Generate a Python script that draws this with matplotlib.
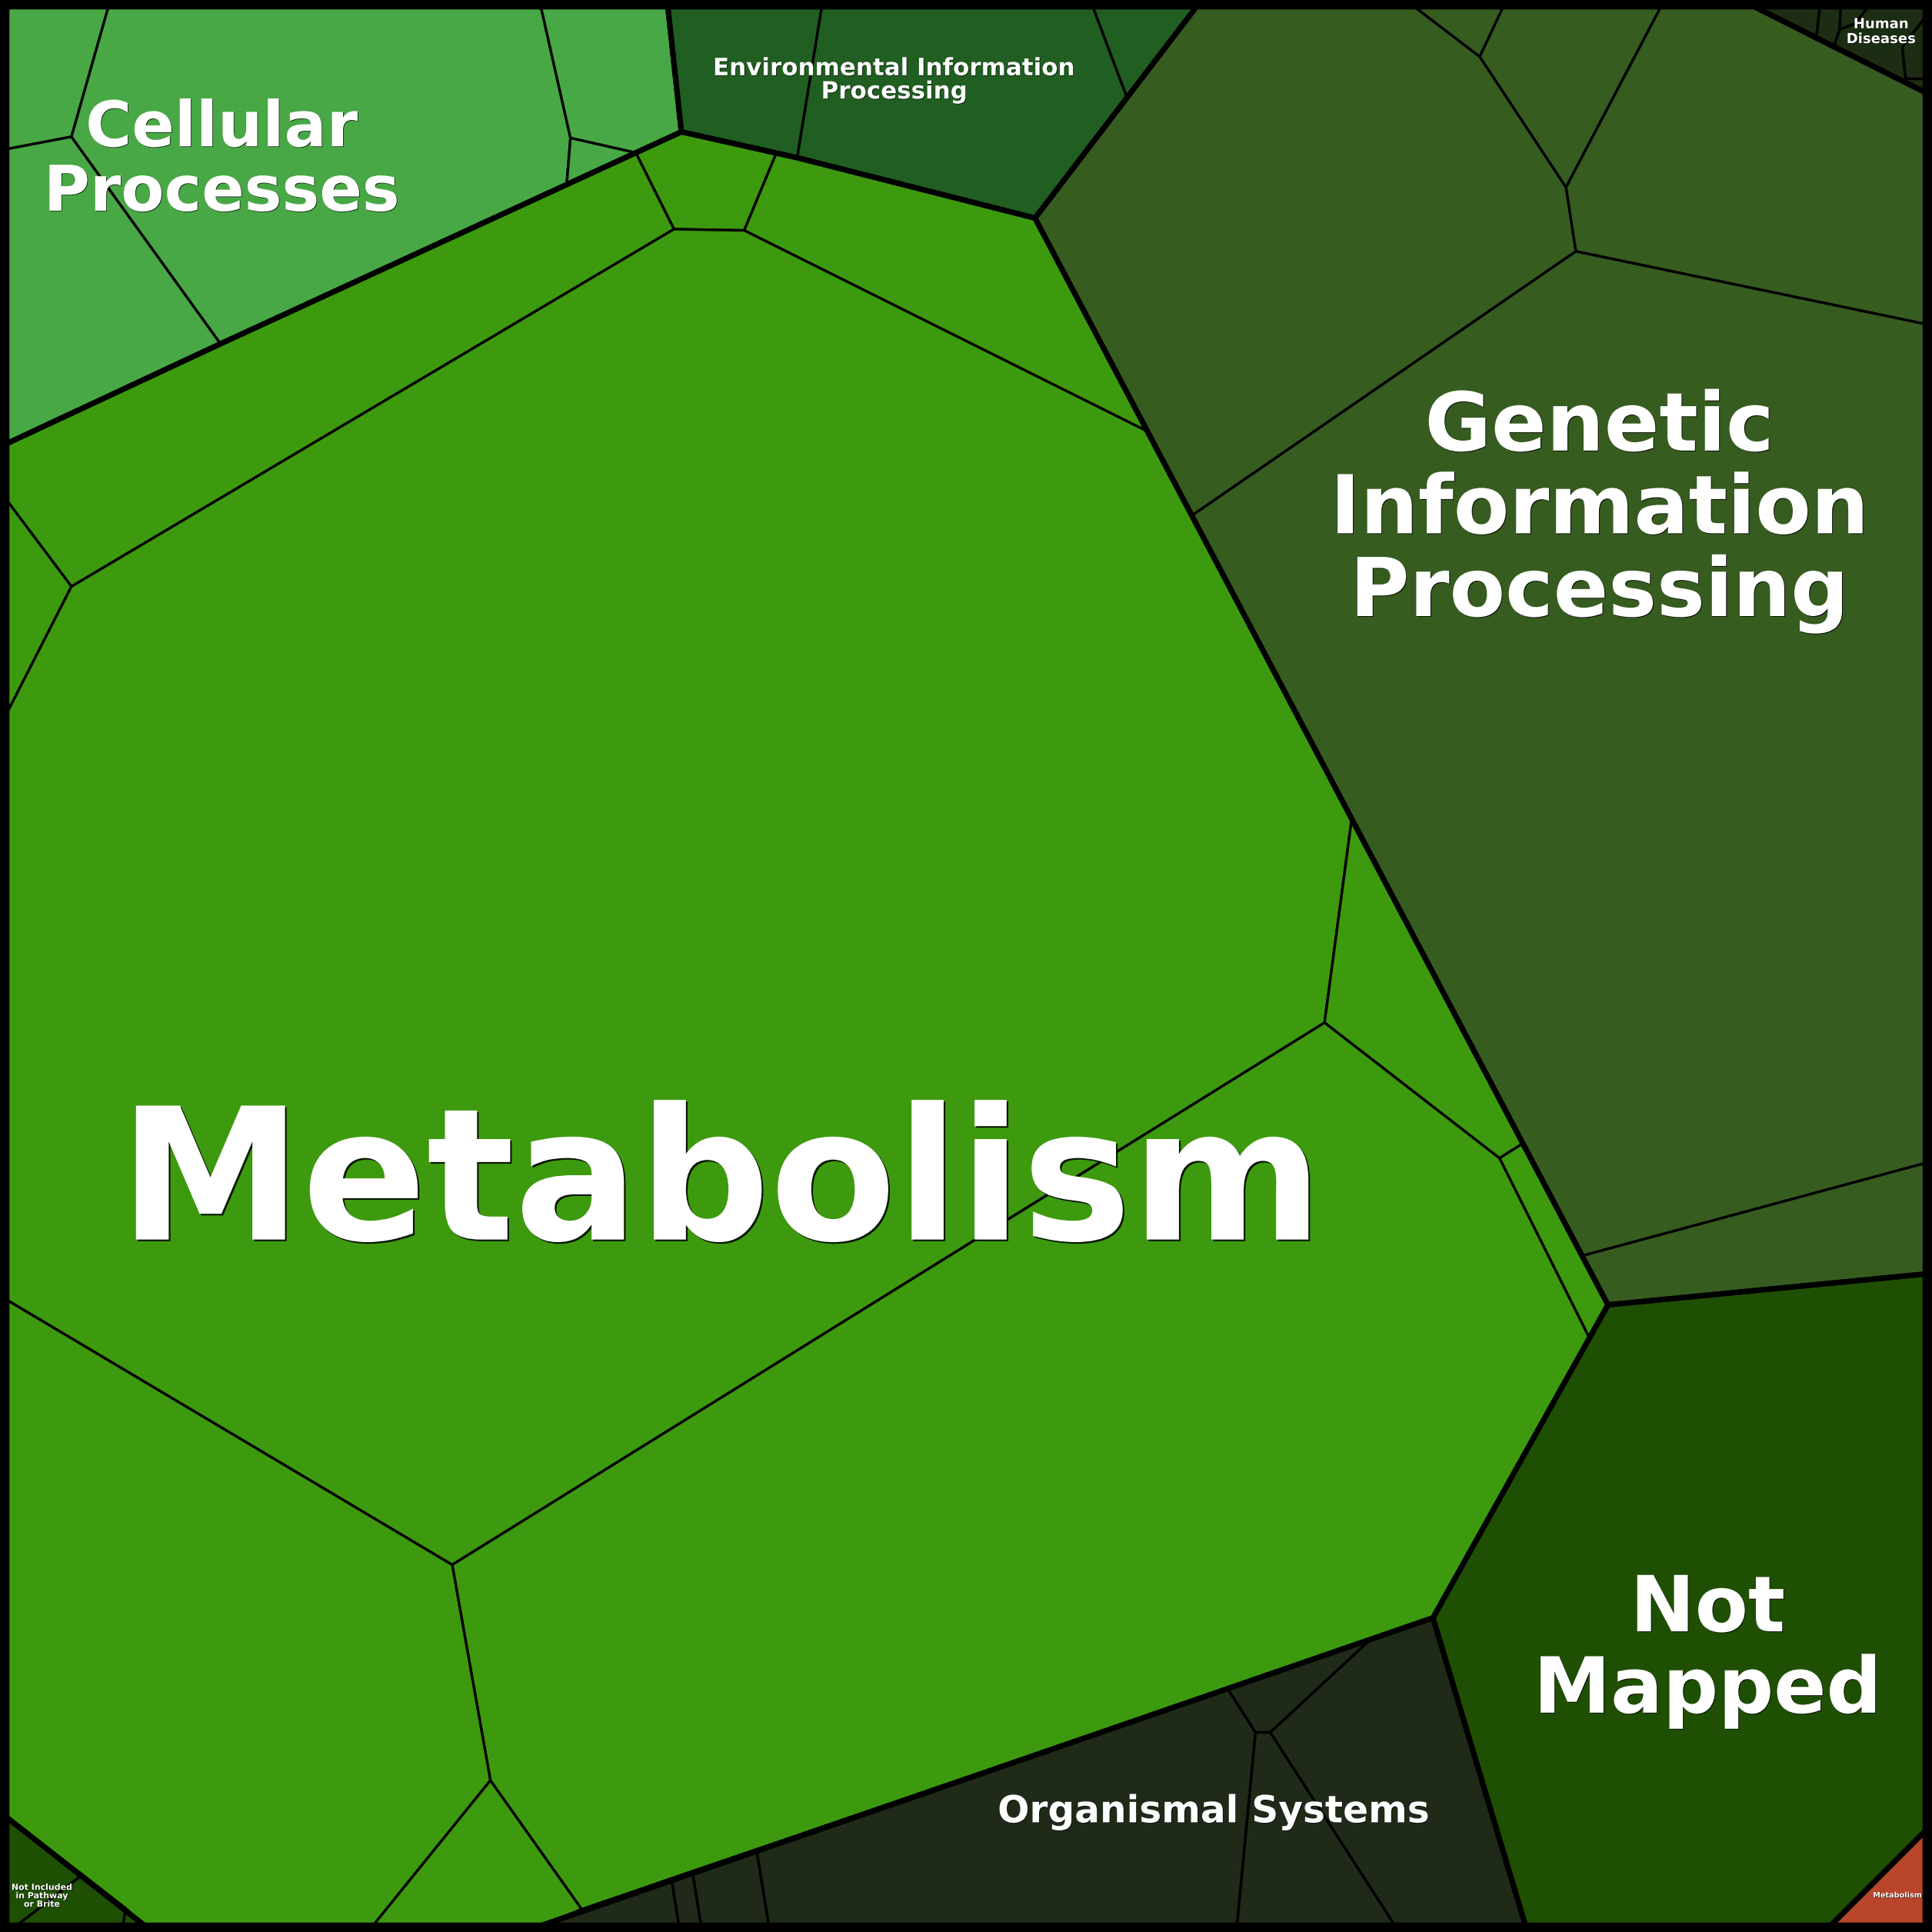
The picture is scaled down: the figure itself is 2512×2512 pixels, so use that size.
import matplotlib
matplotlib.use("Agg")
import matplotlib.pyplot as plt
from matplotlib.patches import Polygon
import matplotlib.patheffects as pe

# ---------------- frame extents (reference units, 0..1568) ----------------
L, T, R, B = 5.5, 5.5, 1562.5, 1562.5

# ---------------- data: top-level groups ----------------
group_names = ["Metabolism", "Cellular Processes", "Environmental Information Processing",
               "Genetic Information Processing", "Human Diseases", "Not Mapped",
               "Organismal Systems", "Not Included in Pathway or Brite", "Metabolism (other)"]
group_labels = ["Metabolism", "Cellular\nProcesses", "Environmental Information\nProcessing",
                "Genetic\nInformation\nProcessing", "Human\nDiseases", "Not\nMapped",
                "Organismal Systems", "Not Included\nin Pathway\nor Brite", "Metabolism"]
group_colors = ["#3d9a0e", "#48a845", "#215e21", "#365c1f", "#1c2d13", "#1f4f03",
                "#1f2a18", "#1f4f03", "#b8452a"]

# ---------------- data: Voronoi cells (polygon vertices) ----------------
metabolism_cells = [
    [(553, 107), (630, 124.5), (604, 187), (547, 186), (516, 124)],
    [(L, 360), (179, 279), (516, 124), (547, 186), (58, 476), (L, 406)],
    [(630, 124.5), (647, 128), (840, 177), (931, 350), (604, 187)],
    [(L, 406), (58, 476), (L, 579)],
    [(547, 186), (604, 187), (931, 350), (1097, 665), (1075, 830), (367, 1270),
     (L, 1055), (L, 579), (58, 476)],
    [(1097, 665), (1236, 928), (1217, 940), (1075, 830)],
    [(1236, 928), (1305, 1059), (1290, 1086), (1217, 940)],
    [(1075, 830), (1217, 940), (1290, 1086), (1163, 1313), (472, 1549.5), (398, 1445), (367, 1270)],
    [(L, 1055), (367, 1270), (398, 1445), (303, B), (117, B), (L, 1475)],
    [(398, 1445), (472, 1549.5), (440, B), (303, B)],
]
metabolism_outline = [(L, 360), (179, 279), (516, 124), (553, 107), (647, 128), (840, 177),
                      (1305, 1059), (1163, 1313), (440, B), (117, B), (L, 1475)]

cellular_cells = [
    [(L, T), (88, T), (58, 111), (L, 121)],
    [(L, 121), (58, 111), (179, 279), (L, 360)],
    [(88, T), (439, T), (463, 112), (460, 149), (179, 279), (58, 111)],
    [(439, T), (542, T), (553, 107), (516, 124), (463, 112)],
    [(463, 112), (516, 124), (460, 149)],
]
cellular_outline = [(L, T), (542, T), (553, 107), (516, 124), (179, 279), (L, 360)]

environmental_cells = [
    [(542, T), (667, T), (647, 128), (553, 107)],
    [(667, T), (887, T), (915, 80), (840, 177), (647, 128)],
    [(887, T), (971, T), (915, 80)],
]
environmental_outline = [(542, T), (971, T), (840, 177), (647, 128), (553, 107)]

genetic_cells = [
    [(971, T), (1148, T), (1201, 46), (1271, 152), (1279, 204), (968, 418), (840, 177)],
    [(1148, T), (1220, T), (1201, 46)],
    [(1220, T), (1348, T), (1271, 152), (1201, 46)],
    [(1348, T), (1424, T), (R, 75), (R, 263), (1279, 204), (1271, 152)],
    [(1279, 204), (R, 263), (R, 944), (1285, 1019), (968, 418)],
    [(1285, 1019), (R, 944), (R, 1034), (1305, 1059)],
]
genetic_outline = [(971, T), (1424, T), (R, 75), (R, 1034), (1305, 1059), (840, 177)]

human_cells = [
    [(1424, T), (1477, T), (1474, 32)],
    [(1477, T), (1494, T), (1493, 24), (1488, 39), (1474, 32)],
    [(1494, T), (1516, T), (1506, 19), (1493, 24)],
    [(1516, T), (R, T), (R, 14), (1544, 38), (1547, 68), (1488, 39), (1493, 24), (1506, 19)],
    [(R, 14), (R, 64), (1546.6, 64), (1544, 38)],
    [(1546.6, 64), (R, 64), (R, 75), (1547, 68)],
]
human_outline = [(1424, T), (R, T), (R, 75)]

notmapped_cells = [
    [(1305, 1059), (R, 1034), (R, 1486), (1486, B), (1238, B), (1163, 1313)],
]
notmapped_outline = notmapped_cells[0]

organismal_cells = [
    [(440, B), (545, 1524.5), (551, B)],
    [(545, 1524.5), (562, 1518.7), (569, B), (551, B)],
    [(562, 1518.7), (614, 1501), (624, B), (569, B)],
    [(614, 1501), (996, 1370), (1019, 1406), (1004, B), (624, B)],
    [(996, 1370), (1113, 1330), (1031, 1406), (1019, 1406)],
    [(1019, 1406), (1031, 1406), (1132, B), (1004, B)],
    [(1113, 1330), (1163, 1313), (1238, B), (1132, B), (1031, 1406)],
]
organismal_outline = [(1163, 1313), (1238, B), (440, B)]

notincluded_cells = [
    [(L, 1475), (67, 1521.5), (14, B), (L, B)],
    [(67, 1521.5), (102, 1548.8), (100, B), (14, B)],
    [(102, 1548.8), (117, B), (100, B)],
]
notincluded_outline = [(L, 1475), (117, B), (L, B)]

othermet_cells = [
    [(R, 1486), (R, B), (1486, B)],
]
othermet_outline = othermet_cells[0]

group_cells = [metabolism_cells, cellular_cells, environmental_cells, genetic_cells,
               human_cells, notmapped_cells, organismal_cells, notincluded_cells, othermet_cells]
group_outlines = [metabolism_outline, cellular_outline, environmental_outline, genetic_outline,
                  human_outline, notmapped_outline, organismal_outline, notincluded_outline,
                  othermet_outline]

# ---------------- layout / style for labels ----------------
label_pos = [(585, 1006), (180, 171), (726, 80), (1298, 500), (1526.5, 35),
             (1386, 1390), (985, 1479), (34, 1547.5), (1540, 1540)]
label_size = [172, 59, 22.3, 76, 13, 72.5, 35, 7.9, 7.0]
label_spacing = [1.0, 1.075, 1.06, 1.07, 1.1, 1.10, 1.0, 1.12, 1.0]

fig = plt.figure(figsize=(25.12, 25.12), dpi=100, facecolor="black")
ax = fig.add_axes([0, 0, 1, 1])
ax.set_facecolor("black")
ax.set_xlim(0, 1568)
ax.set_ylim(1568, 0)
ax.axis("off")

thin_lw = 2.4
thick_lw = 5.0

for cells, color in zip(group_cells, group_colors):
    for poly in cells:
        ax.add_patch(Polygon(poly, closed=True, facecolor=color, edgecolor="black",
                             linewidth=thin_lw, joinstyle="miter", zorder=1))

for outline in group_outlines:
    ax.add_patch(Polygon(outline, closed=True, facecolor="none", edgecolor="black",
                         linewidth=thick_lw, joinstyle="miter", zorder=2))

for text, (x, y), fs, ls in zip(group_labels, label_pos, label_size, label_spacing):
    off = max(0.5, fs / 110.0)
    t = ax.text(x, y, text, ha="center", va="baseline", multialignment="center",
                fontsize=fs, fontweight="bold", color="white", family="DejaVu Sans",
                linespacing=ls, zorder=5)
    t.set_path_effects([pe.SimplePatchShadow(offset=(off, -off), shadow_rgbFace="black", alpha=0.85),
                        pe.Normal()])

fig.savefig("out.png", dpi=100, facecolor="black")
